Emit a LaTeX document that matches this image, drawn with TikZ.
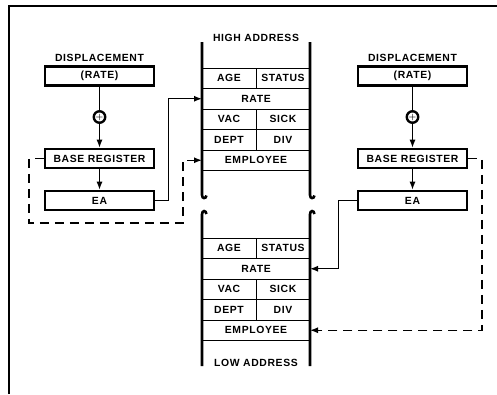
\documentclass[tikz,border=0pt]{standalone}
\usepackage{fontspec}
\newfontfamily\lab[LetterSpace=6]{Liberation Sans}
\usetikzlibrary{arrows.meta}
\begin{document}
\begin{tikzpicture}[x=1pt,y=-1pt,
  lbl/.style={font=\lab\bfseries\fontsize{10.4}{12}\selectfont, inner sep=0},
  regbox/.style={lbl, draw, line width=2.6pt, minimum width=109pt, minimum height=19pt, anchor=center},
  cell/.style={lbl, draw, line width=0.9pt, minimum height=20.5pt, anchor=north west, outer sep=0},
  adder/.style={circle, draw, line width=2.4pt, minimum size=11.5pt, inner sep=0, font=\bfseries\fontsize{8}{8}\selectfont},
  conn/.style={line width=1.2pt},
  tip/.style={-{Latex[length=8pt,width=6pt]}},
  dashconn/.style={conn, dash pattern=on 9pt off 6pt},
  colline/.style={line width=2.6pt}]
\useasboundingbox (0,0) rectangle (497,394);
% frame
\draw[line width=1.6pt] (9,394) -- (9,6) -- (497,6);

% memory cells, upper
\node[cell, minimum width=54pt] (uAGE) at (202,68) {AGE};
\node[cell, minimum width=54pt] (uSTATUS) at (256,68) {STATUS};
\node[cell, minimum width=108pt] (uRATE) at (202,88.5) {RATE};
\node[cell, minimum width=54pt] (uVAC) at (202,109) {VAC};
\node[cell, minimum width=54pt] (uSICK) at (256,109) {SICK};
\node[cell, minimum width=54pt] (uDEPT) at (202,129.5) {DEPT};
\node[cell, minimum width=54pt] (uDIV) at (256,129.5) {DIV};
\node[cell, minimum width=108pt] (uEMP) at (202,150) {EMPLOYEE};
% memory cells, lower
\node[cell, minimum width=54pt] (lAGE) at (202,238) {AGE};
\node[cell, minimum width=54pt] (lSTATUS) at (256,238) {STATUS};
\node[cell, minimum width=108pt] (lRATE) at (202,258.5) {RATE};
\node[cell, minimum width=54pt] (lVAC) at (202,279) {VAC};
\node[cell, minimum width=54pt] (lSICK) at (256,279) {SICK};
\node[cell, minimum width=54pt] (lDEPT) at (202,299.5) {DEPT};
\node[cell, minimum width=54pt] (lDIV) at (256,299.5) {DIV};
\node[cell, minimum width=108pt] (lEMP) at (202,320) {EMPLOYEE};

\node[lbl] (high) at (256,38) {HIGH ADDRESS};
\node[lbl] (low) at (256,363) {LOW ADDRESS};

% column lines with break marks
\draw[colline] (202,42) -- (202,195) .. controls (202,199) and (206,199) .. (206.5,195.5);
\draw[colline] (206.5,214) .. controls (206,210) and (202,210) .. (202,214.5) -- (202,366);
\draw[colline] (310,42) -- (310,195) .. controls (310,199) and (314,199) .. (314.5,195.5);
\draw[colline] (314.5,214) .. controls (314,210) and (310,210) .. (310,214.5) -- (310,366);

% left addressing unit
\node[lbl] (ldisp) at (99.5,58) {DISPLACEMENT};
\node[regbox] (lrate) at (99.5,76) {(RATE)};
\node[adder] (ladd) at (99.5,117) {+};
\node[regbox] (lbase) at (99.5,158.5) {BASE REGISTER};
\node[regbox] (lea) at (99.5,200.5) {EA};
\draw[conn] (lrate) -- (ladd);
\draw[conn,tip] (ladd) -- (lbase);
\draw[conn,tip] (lbase) -- (lea);

% right addressing unit
\node[lbl] (rdisp) at (412.5,58) {DISPLACEMENT};
\node[regbox] (rrate) at (412.5,76) {(RATE)};
\node[adder] (radd) at (412.5,117) {+};
\node[regbox] (rbase) at (412.5,158.5) {BASE REGISTER};
\node[regbox] (rea) at (412.5,200.5) {EA};
\draw[conn] (rrate) -- (radd);
\draw[conn,tip] (radd) -- (rbase);
\draw[conn,tip] (rbase) -- (rea);

% connectors
\coordinate (ld1) at (29,223);
\coordinate (ld2) at (183,223);
\coordinate (rd1) at (482,250);
\draw[conn,tip] (lea.east) -- ++(13,0) |- (uRATE.west);
\draw[dashconn,tip] (lbase.west) -| (ld1) -- (ld2) |- (uEMP.west);
\draw[conn,tip] (rea.west) -- ++(-18,0) |- (lRATE.east);
\draw[dashconn,tip] (rbase.east) -- (rbase.east -| rd1) |- (lEMP.east);
\end{tikzpicture}
\end{document}
